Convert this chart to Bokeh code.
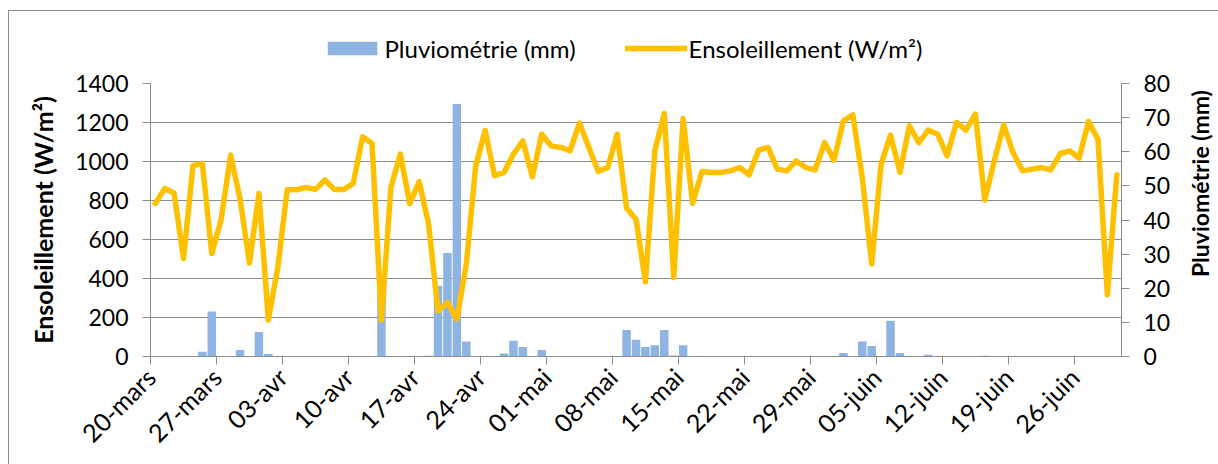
import math
from bokeh.plotting import figure
from bokeh.layouts import column, row
from bokeh.core.properties import value
from bokeh.models import (Range1d, LinearAxis, FixedTicker, Legend, LegendItem,
                          ColumnDataSource)
from bokeh.embed import file_html
from bokeh.resources import INLINE

# ---- data (one value per day, 20-mars .. 30-juin) ----
tick_days = [0, 7, 14, 21, 28, 35, 42, 49, 56, 63, 70, 77, 84, 91, 98]
tick_labels = ["20-mars", "27-mars", "03-avr", "10-avr", "17-avr", "24-avr",
               "01-mai", "08-mai", "15-mai", "22-mai", "29-mai", "05-juin",
               "12-juin", "19-juin", "26-juin"]

ensoleillement = [
    785, 861, 838, 503, 978, 990, 528, 704, 1033, 807,
    479, 836, 187, 456, 855, 855, 867, 857, 905, 857,
    857, 887, 1127, 1092, 187, 867, 1038, 784, 897, 679,
    234, 277, 192, 474, 978, 1160, 927, 944, 1038, 1106,
    921, 1140, 1080, 1072, 1055, 1197, 1072, 949, 969, 1140,
    761, 704, 383, 1055, 1246, 405, 1220, 785, 949, 944,
    944, 952, 969, 932, 1058, 1072, 961, 952, 1003, 969,
    957, 1097, 1007, 1209, 1239, 918, 474, 987, 1135, 944,
    1183, 1097, 1161, 1140, 1029, 1200, 1161, 1243, 802, 1003,
    1188, 1046, 952, 961, 969, 957, 1041, 1055, 1017, 1205,
    1115, 316, 932,
]

pluviometrie = [
    0, 0, 0, 0, 0, 1.4, 13.2, 0, 0, 1.9,
    0, 7.2, 0.7, 0, 0, 0, 0, 0, 0, 0,
    0, 0, 0, 0, 18.5, 0, 0, 0, 0, 0.2,
    20.7, 30.3, 74.0, 4.4, 0, 0, 0, 0.9, 4.6, 2.8,
    0, 1.9, 0, 0, 0, 0, 0, 0, 0, 0,
    7.8, 4.9, 2.8, 3.3, 7.8, 0.3, 3.3, 0, 0, 0,
    0, 0, 0, 0, 0, 0, 0, 0, 0, 0,
    0, 0, 0, 1.0, 0, 4.4, 3.1, 0, 10.5, 1.0,
    0, 0, 0.5, 0, 0, 0, 0, 0, 0.2, 0,
    0, 0, 0, 0, 0, 0, 0, 0, 0, 0,
    0, 0, 0,
]

n_days = len(ensoleillement)
day_index = list(range(n_days))

src = ColumnDataSource(dict(
    x=[d + 0.5 for d in day_index],
    sun=ensoleillement,
    rain=pluviometrie,
))

FONT = "Lato"
GRID = "#8c8c8c"
BLUE = "#8EB4E3"
GOLD = "#FFC000"

# ---------- legend strip (above the chart) ----------
leg_fig = figure(width=1209, height=63, output_backend="svg", toolbar_location=None,
                 x_range=Range1d(0, 1), y_range=Range1d(0, 1),
                 x_axis_type=None, y_axis_type=None,
                 min_border=0, min_border_left=16, min_border_right=0,
                 min_border_top=10, min_border_bottom=0)
leg_fig.grid.visible = False
leg_fig.outline_line_color = None
# legend-only renderers, placed outside the visible range
dummy_bar = leg_fig.vbar(x=[5], top=[1], width=0.5, fill_color=BLUE, line_color=None)
dummy_line = leg_fig.line(x=[5, 6], y=[0.5, 0.5], line_color=GOLD, line_width=5.5,
                          line_cap="round")
legend = Legend(items=[LegendItem(label="Pluviométrie (mm)", renderers=[dummy_bar]),
                       LegendItem(label="Ensoleillement (W/m²)", renderers=[dummy_line])],
                orientation="horizontal", location="center",
                border_line_color=None, background_fill_alpha=0,
                label_text_font=FONT, label_text_font_size="24px",
                label_text_color="black",
                glyph_width=62, glyph_height=17, label_standoff=2, spacing=49,
                padding=0, margin=0)
leg_fig.add_layout(legend)

# ---------- main chart ----------
p = figure(width=1172, height=390, output_backend="svg", toolbar_location=None,
           x_range=Range1d(0, n_days), y_range=Range1d(0, 1400),
           min_border_left=141, min_border_right=60,
           min_border_top=9, min_border_bottom=108)
p.outline_line_color = None
p.background_fill_color = "white"
p.border_fill_color = "white"

p.extra_y_ranges = {"pluie": Range1d(0, 80)}

bars = p.vbar(x="x", top="rain", width=0.9, source=src, y_range_name="pluie",
              fill_color=BLUE, line_color=None)
line = p.line(x="x", y="sun", source=src, line_color=GOLD, line_width=5.5,
              line_join="round", line_cap="round")

# grid
p.xgrid.visible = False
p.ygrid.ticker = FixedTicker(ticks=[0, 200, 400, 600, 800, 1000, 1200, 1400])
p.ygrid.grid_line_color = GRID
p.ygrid.grid_line_width = 1

# x axis
xa = p.xaxis[0]
xa.ticker = FixedTicker(ticks=tick_days)
xa.major_label_overrides = {d: l for d, l in zip(tick_days, tick_labels)}
xa.major_label_orientation = math.pi / 4
xa.minor_tick_line_color = None

# left axis
ya = p.yaxis[0]
ya.ticker = FixedTicker(ticks=[0, 200, 400, 600, 800, 1000, 1200, 1400])
ya.axis_label = "Ensoleillement (W/m²)"
ya.minor_tick_line_color = None

# right axis (its title is drawn in the strip on the right, reading upward)
ra = LinearAxis(y_range_name="pluie",
                ticker=FixedTicker(ticks=[0, 10, 20, 30, 40, 50, 60, 70, 80]))
ra.minor_tick_line_color = None
p.add_layout(ra, "right")

for ax in (xa, ya, ra):
    ax.axis_line_color = GRID
    ax.major_tick_line_color = GRID
    ax.major_tick_out = 8
    ax.major_tick_in = 0
    ax.major_label_text_font = FONT
    ax.major_label_text_font_size = "23px"
    ax.major_label_text_color = "black"
    ax.major_label_standoff = 14
    ax.axis_label_text_font = FONT
    ax.axis_label_text_font_size = "25px"
    ax.axis_label_text_font_style = "bold"
    ax.axis_label_text_color = "black"
    ax.axis_label_standoff = 14

xa.major_label_text_font_size = "25px"
xa.major_label_standoff = 8

# ---------- right-hand title strip ----------
lab_fig = figure(width=37, height=390, output_backend="svg", toolbar_location=None,
                 x_range=Range1d(0, 1), y_range=Range1d(0, 390),
                 x_axis_type=None, y_axis_type=None,
                 min_border=0, min_border_left=0, min_border_right=0,
                 min_border_top=0, min_border_bottom=0)
lab_fig.grid.visible = False
lab_fig.outline_line_color = None
lab_fig.text(x=[0.5], y=[247], text=["Pluviométrie (mm)"], angle=math.pi / 2,
             text_align="center", text_baseline="middle",
             text_font=value(FONT), text_font_style="bold",
             text_font_size="23px", text_color="black")

layout = column(leg_fig, row(p, lab_fig, spacing=0), spacing=0,
                styles={"border-left": "1px solid #8c8c8c",
                        "border-top": "1px solid #8c8c8c",
                        "margin-left": "8px", "margin-top": "10px"})

open("out.html", "w").write(file_html(layout, INLINE))
